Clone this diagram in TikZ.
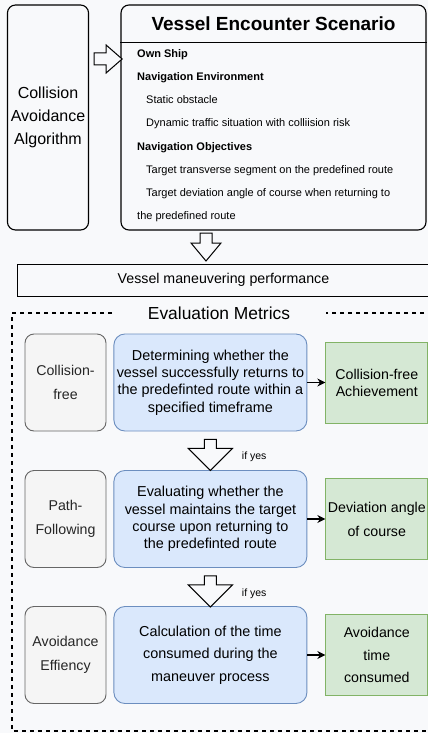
\documentclass[tikz,border=0pt]{standalone}
\usepackage{fontspec}
\setmainfont{Liberation Sans}
\usetikzlibrary{positioning,calc,arrows.meta}
\definecolor{pagebg}{HTML}{F8F9FB}
\definecolor{grayfill}{HTML}{F5F5F5}
\definecolor{grayline}{HTML}{666666}
\definecolor{bluefill}{HTML}{DAE8FC}
\definecolor{blueline}{HTML}{6C8EBF}
\definecolor{greenfill}{HTML}{D5E8D4}
\definecolor{greenline}{HTML}{82B366}
\newcommand{\fs}[2]{\fontsize{#1}{#2}\selectfont}

\begin{document}
\begin{tikzpicture}[x=1pt,y=-1pt,
    box/.style={draw,line width=1.1pt,rounded corners=8pt},
    item/.style={anchor=west,inner sep=0pt,text height=8pt,text depth=2.5pt,font=\fs{11}{13}},
    head/.style={item,font=\bfseries\fs{11}{13}},
    metric/.style={draw=grayline,fill=grayfill,text=black!85,line width=0.9pt,rounded corners=9pt,
        minimum width=81pt,minimum height=97pt,align=center,inner sep=0pt},
    method/.style={draw=blueline,fill=bluefill,line width=0.9pt,rounded corners=11pt,
        minimum width=193pt,minimum height=97pt,align=center,inner sep=0pt},
    result/.style={draw=greenline,fill=greenfill,line width=0.9pt,
        minimum width=102pt,minimum height=81pt,align=center,inner sep=0pt},
    hollow/.style={draw,fill=pagebg,line width=1pt,line join=miter},
    link/.style={-{Stealth[length=8pt,width=8pt]},line width=1.2pt},
    ]
\fill[pagebg] (0,0) rectangle (428,733);
\useasboundingbox (0,0) rectangle (428,733);

% top part
\node[box,minimum width=80pt,minimum height=225pt,align=center,font=\fs{16}{23}] (algo) at (48,117.5)
    {Collision\\Avoidance\\Algorithm};
\node[box,minimum width=305pt,minimum height=225pt] (scen) at (273.5,117.5) {};
\node[font=\bfseries\fs{19}{22}] (title) at ($(scen.north)+(0,19)$) {Vessel Encounter Scenario};
\draw[line width=1pt] (scen.west |- 0,43) -- (scen.east |- 0,43);

\node[head] (own) at (137,55) {Own Ship};
\node[head] (env) at (137,78) {Navigation Environment};
\node[item] (stat) at (146,101) {Static obstacle};
\node[item] (dyn) at (146,124) {Dynamic traffic situation with colliision risk};
\node[head] (obj) at (137,148) {Navigation Objectives};
\node[item] (seg) at (146,171) {Target transverse segment on the predefined route};
\node[item] (ang) at (146,194) {Target deviation angle of course when returning to};
\node[item] (ang2) at (137,217) {the predefined route};

\draw[hollow] ($(algo.east)+(5,-64.5)$) -- ++(12,0) -- ++(0,-8) -- ++(16,14) -- ++(-16,14)
    -- ++(0,-8) -- ++(-12,0) -- cycle;
\draw[hollow] (200,233) -- (212,233) -- (212,243) -- (221,243) -- (206,261) -- (191,243)
    -- (200,243) -- cycle;

\node[draw,line width=1pt,minimum width=413pt,minimum height=32pt,inner sep=0pt,font=\fs{14.2}{17}]
    (perf) at (223.5,280) {Vessel maneuvering performance};

% evaluation metrics
\draw[line width=1.2pt,dash pattern=on 4pt off 4pt] (432,313) -- (12,313) -- (12,731) -- (432,731);
\node[fill=pagebg,inner xsep=36pt,inner ysep=2pt,font=\fs{17.4}{20}] (eval) at (219,313) {Evaluation Metrics};

\node[metric,font=\fs{14.2}{24}] (m1) at (65.5,382.5) {Collision-\\free};
\node[method,right=7pt of m1,font=\fs{14.4}{17.2}] (d1)
    {Determining whether the\\vessel successfully returns to\\the predefinted route within a\\specified timeframe};
\node[result,right=18pt of d1,font=\fs{14.2}{17}] (r1) {Collision-free\\Achievement};

\node[metric,font=\fs{14.2}{24}] (m2) at (65.5,519) {Path-\\Following};
\node[method,right=7pt of m2,font=\fs{14.4}{17.2}] (d2)
    {Evaluating whether the\\vessel maintains the target\\course upon returning to\\the predefinted route};
\node[result,right=18pt of d2,font=\fs{14.2}{24}] (r2) {Deviation angle\\of course};

\node[metric,font=\fs{14.2}{24}] (m3) at (65.5,655) {Avoidance\\Effiency};
\node[method,right=7pt of m3,font=\fs{14.4}{22.5}] (d3)
    {Calculation of the time\\consumed during the\\maneuver process};
\node[result,right=18pt of d3,font=\fs{14.2}{22.5}] (r3) {Avoidance\\time\\consumed};

\draw[link] (d1) -- (r1);
\draw[link] (d2) -- (r2);
\draw[link] (d3) -- (r3);

\draw[hollow] ($(d1.south)+(-6,8)$) -- ++(12,0) -- ++(0,9) -- ++(16,0) -- ++(-22,22)
    -- ++(-22,-22) -- ++(16,0) -- cycle;
\node[anchor=west,font=\fs{10.5}{12}] (yes1) at ($(d1.south)+(28,25)$) {if yes};
\draw[hollow] ($(d2.south)+(-6,8)$) -- ++(12,0) -- ++(0,9) -- ++(16,0) -- ++(-22,22)
    -- ++(-22,-22) -- ++(16,0) -- cycle;
\node[anchor=west,font=\fs{10.5}{12}] (yes2) at ($(d2.south)+(28,26)$) {if yes};
\end{tikzpicture}
\end{document}
